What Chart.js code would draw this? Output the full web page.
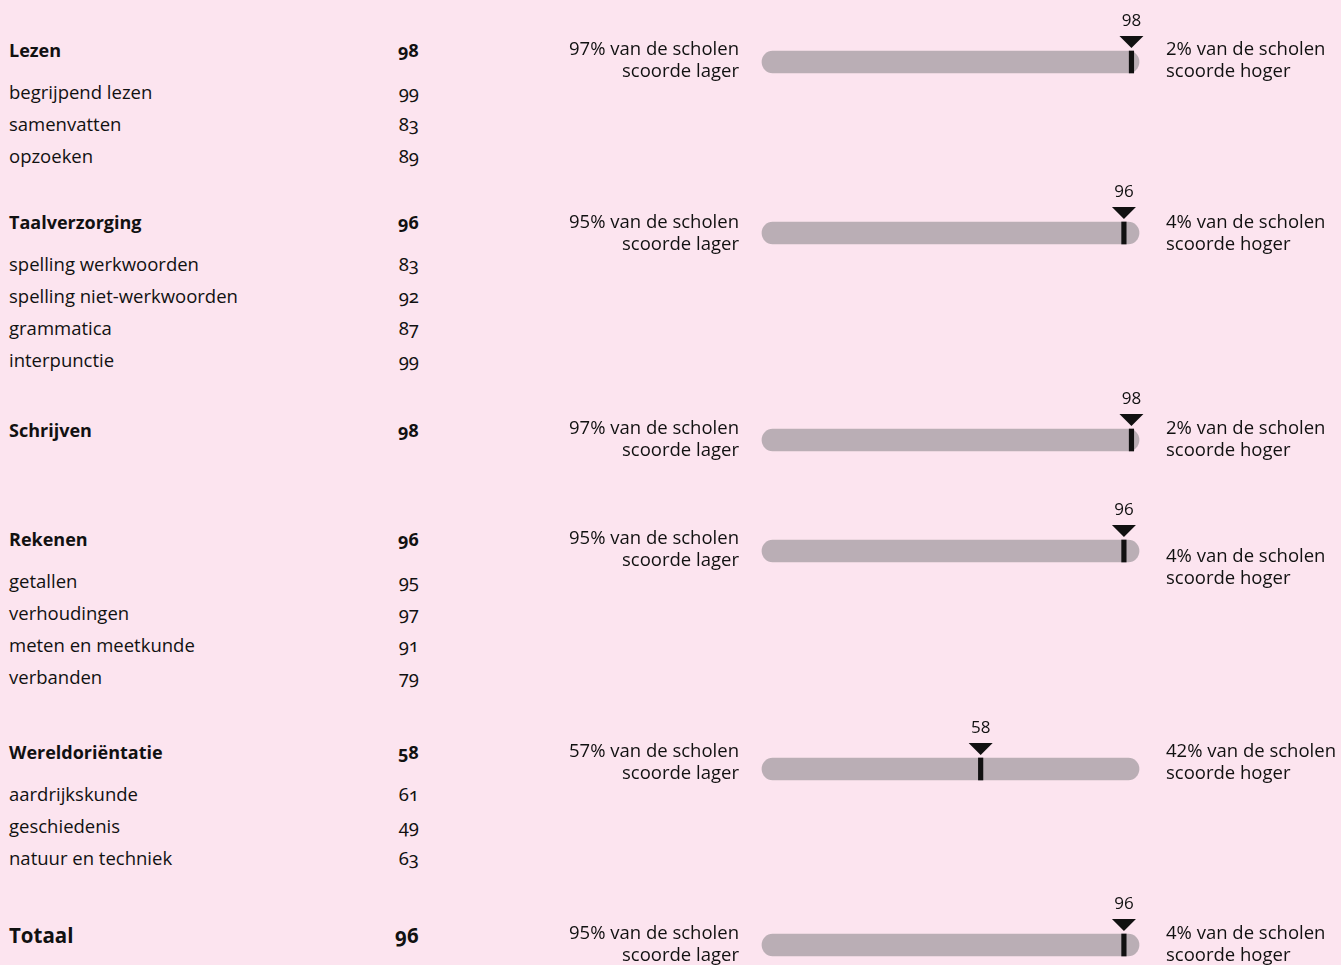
<!DOCTYPE html>
<html lang="nl">
<head>
<meta charset="utf-8">
<title>Resultaten eindtoets</title>
<script src="https://cdn.jsdelivr.net/npm/chart.js@4.4.1/dist/chart.umd.min.js"></script>
<style>
    html, body { margin: 0; padding: 0; }
    body {
        width: 1341px; height: 965px; position: relative; overflow: hidden;
        background: #fce4ef; color: #111;
        font-family: 'Open Sans', sans-serif;
    }
    .row { position: absolute; left: 9px; width: 410px; height: 26px; line-height: 26px; font-size: 18.5px; }
    .row .lbl { position: absolute; left: 0; }
    .row .val { position: absolute; right: 0; font-family: 'Noto Sans', sans-serif; font-variant-numeric: oldstyle-nums; }
    .row.head { font-weight: 700; font-size: 18px; }
    .row.total { font-weight: 700; font-size: 20.5px; }
    .bar-box { position: absolute; left: 0; width: 1341px; height: 100px; }
</style>
</head>
<body>
<div id="table"></div>
<div id="bars"></div>
<script>
(function () {
    'use strict';

    var FONT = "'Open Sans', sans-serif";

    // data
    var sections = ['Lezen', 'Taalverzorging', 'Schrijven', 'Rekenen', 'Wereldoriëntatie', 'Totaal'];
    var sectionScores = [98, 96, 98, 96, 58, 96];
    var subjects = [
        ['begrijpend lezen', 'samenvatten', 'opzoeken'],
        ['spelling werkwoorden', 'spelling niet-werkwoorden', 'grammatica', 'interpunctie'],
        [],
        ['getallen', 'verhoudingen', 'meten en meetkunde', 'verbanden'],
        ['aardrijkskunde', 'geschiedenis', 'natuur en techniek'],
        []
    ];
    var subjectScores = [
        [99, 83, 89],
        [83, 92, 87, 99],
        [],
        [95, 97, 91, 79],
        [61, 49, 63],
        []
    ];
    var pctLower = [97, 95, 97, 95, 57, 95];
    var pctHigher = [2, 4, 2, 4, 42, 4];

    // layout (pixel centres of rows)
    var HEAD_Y = [50, 222, 430, 539, 752, 935];
    var BAR_Y = [62, 232.5, 440, 551, 769, 945];
    var LEFT_TXT_Y = [[50, 72], [222, 244], [429, 451], [539, 561], [752, 774], [934, 956]];
    var RIGHT_TXT_Y = [[50, 72], [222, 244], [429, 451], [557, 579], [752, 774], [934, 956]];

    var TRACK = '#baaeb5';
    var INK = '#111111';

    // left table
    var table = document.getElementById('table');
    function addRow(y, label, value, cls) {
        var div = document.createElement('div');
        div.className = 'row' + (cls ? ' ' + cls : '');
        div.style.top = (y - 13) + 'px';
        div.innerHTML = '<span class="lbl"></span><span class="val"></span>';
        div.firstChild.textContent = label;
        div.lastChild.textContent = value;
        table.appendChild(div);
    }
    sections.forEach(function (name, i) {
        addRow(HEAD_Y[i], name, sectionScores[i], i === sections.length - 1 ? 'total' : 'head');
        subjects[i].forEach(function (s, j) {
            addRow(HEAD_Y[i] + 42 + j * 32, s, subjectScores[i][j]);
        });
    });

    // marker + side texts
    var markerPlugin = {
        id: 'marker',
        afterDatasetsDraw: function (chart, args, opts) {
            var ctx = chart.ctx;
            var area = chart.chartArea;
            var x = chart.scales.x.getPixelForValue(opts.value);
            var top = area.top;
            ctx.save();
            ctx.fillStyle = INK;
            ctx.beginPath();
            ctx.moveTo(x - 12, top - 15);
            ctx.lineTo(x + 12, top - 15);
            ctx.lineTo(x, top - 3);
            ctx.closePath();
            ctx.fill();

            ctx.font = '17px ' + FONT;
            ctx.textAlign = 'center';
            ctx.textBaseline = 'middle';
            ctx.fillText(String(opts.value), x, top - 30);

            ctx.font = '18.5px ' + FONT;
            ctx.textAlign = 'right';
            ctx.fillText(opts.lower + '% van de scholen', area.left - 23, opts.leftY[0]);
            ctx.fillText('scoorde lager', area.left - 23, opts.leftY[1]);
            ctx.textAlign = 'left';
            ctx.fillText(opts.higher + '% van de scholen', area.right + 27, opts.rightY[0]);
            ctx.fillText('scoorde hoger', area.right + 27, opts.rightY[1]);
            ctx.restore();
        }
    };

    var bars = document.getElementById('bars');
    sections.forEach(function (name, i) {
        var box = document.createElement('div');
        box.className = 'bar-box';
        var boxTop = BAR_Y[i] - 60;
        box.style.top = boxTop + 'px';
        var canvas = document.createElement('canvas');
        canvas.width = 1341;
        canvas.height = 100;
        box.appendChild(canvas);
        bars.appendChild(box);

        var v = sectionScores[i];
        new Chart(canvas, {
            type: 'bar',
            data: {
                labels: [name],
                datasets: [
                    {
                        data: [[v - 0.6, v + 0.6]],
                        backgroundColor: INK,
                        barThickness: 22,
                        grouped: false,
                        clip: false
                    },
                    {
                        data: [[0, 100]],
                        backgroundColor: TRACK,
                        borderRadius: 11,
                        borderSkipped: false,
                        barThickness: 22,
                        grouped: false,
                        clip: false
                    }
                ]
            },
            options: {
                indexAxis: 'y',
                responsive: false,
                animation: false,
                events: [],
                layout: { padding: { left: 762, right: 202, top: 49, bottom: 29 } },
                plugins: {
                    legend: { display: false },
                    tooltip: { enabled: false },
                    marker: {
                        value: v,
                        lower: pctLower[i],
                        higher: pctHigher[i],
                        leftY: LEFT_TXT_Y[i].map(function (y) { return y - boxTop; }),
                        rightY: RIGHT_TXT_Y[i].map(function (y) { return y - boxTop; })
                    }
                },
                scales: {
                    x: { min: 0, max: 100, display: false },
                    y: { display: false }
                }
            },
            plugins: [markerPlugin]
        });
    });
})();
</script>
</body>
</html>
